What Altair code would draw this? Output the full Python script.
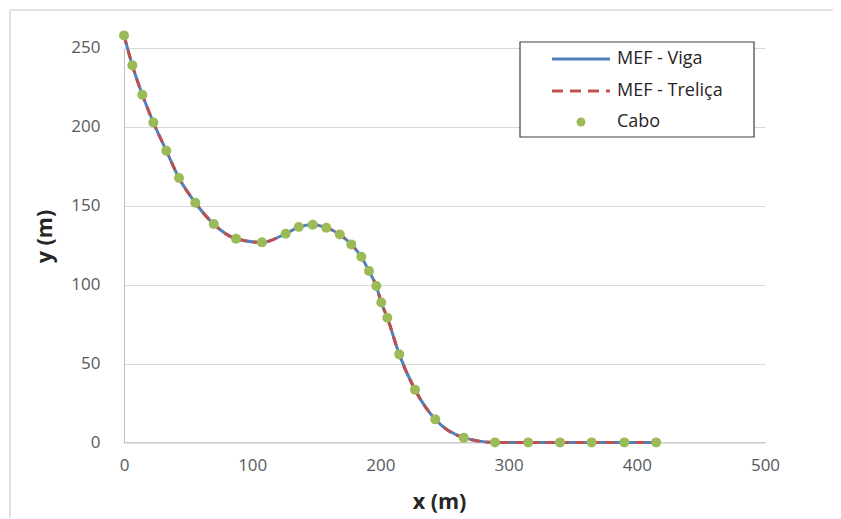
import altair as alt
import pandas as pd

# Cable shape
x_vals = [0, 6.5, 14.3, 22.9, 33.0, 42.9, 55.6, 70.0, 87.4, 107.6, 126.1, 136.3,
          147.2, 157.8, 168.3, 177.3, 185.1, 191.1, 196.8, 200.7, 205.4, 214.7,
          227.0, 242.8, 265.0, 289.4, 315.3, 340.1, 364.8, 390.3, 415.1]
y_vals = [258.0, 239.0, 220.4, 202.8, 184.9, 167.6, 151.9, 138.4, 129.1, 126.8,
          132.3, 136.5, 138.0, 136.1, 131.8, 125.5, 117.7, 108.6, 99.1, 88.7,
          79.0, 55.8, 33.4, 14.6, 3.0, 0, 0, 0, 0, 0, 0]
series_names = ["MEF - Viga", "MEF - Treliça", "Cabo"]
series_colors = ["#4F81BD", "#C0504D", "#9BBB59"]
x_ticks = [0, 100, 200, 300, 400, 500]
y_ticks = [0, 50, 100, 150, 200, 250]

df = pd.DataFrame({"x": x_vals, "y": y_vals})
FONT = "Open Sans"

xenc = alt.X("x:Q", scale=alt.Scale(domain=[0, 500], nice=False),
             axis=alt.Axis(values=x_ticks, title="x (m)", grid=False,
                           labelFlush=False,
                           titleX=315, titleY=60, titleBaseline="middle",
                           titleAlign="center", labelPadding=15))
yenc = alt.Y("y:Q", scale=alt.Scale(domain=[0, 250], nice=False),
             axis=alt.Axis(values=y_ticks, title="y (m)", grid=True,
                           labelFlush=False,
                           titleX=-79, titleY=188, titleAngle=270,
                           titleBaseline="middle", titleAlign="center",
                           labelPadding=24))

base = alt.Chart(df)
viga = base.mark_line(color=series_colors[0], strokeWidth=3,
                      interpolate="monotone").encode(x=xenc, y=yenc)
trel = base.mark_line(color=series_colors[1], strokeWidth=3, strokeDash=[9, 6],
                      interpolate="monotone").encode(x="x:Q", y="y:Q")
cabo = base.mark_circle(color=series_colors[2], size=100, opacity=1).encode(x="x:Q", y="y:Q")

# Legend (manual, Excel style)
leg_box = alt.Chart(pd.DataFrame({"a": [0]})).mark_rect(
    fill="white", stroke="#404040", strokeWidth=1.2).encode(
    x=alt.value(396), x2=alt.value(630), y=alt.value(-6), y2=alt.value(89))
leg_rows = [11, 43, 74]
leg_layers = [leg_box]
for i, name in enumerate(series_names):
    ld = alt.Chart(pd.DataFrame({"label": [name]}))
    if i < 2:
        kw = dict(color=series_colors[i], strokeWidth=3)
        if i == 1:
            kw["strokeDash"] = [11, 7]
        leg_layers.append(ld.mark_rule(**kw).encode(
            x=alt.value(428), x2=alt.value(486), y=alt.value(leg_rows[i])))
    else:
        leg_layers.append(ld.mark_circle(color=series_colors[2], size=80, opacity=1).encode(
            x=alt.value(457), y=alt.value(leg_rows[i])))
    leg_layers.append(ld.mark_text(align="left", baseline="middle", font=FONT,
                                   fontSize=18, color="#262626").encode(
        x=alt.value(493), y=alt.value(leg_rows[i]), text="label:N"))

# chart-area border (top and left edges)
border_top = alt.Chart(pd.DataFrame({"a": [0]})).mark_rule(color="#D9D9D9", strokeWidth=1.5).encode(
    x=alt.value(-114), x2=alt.value(760), y=alt.value(-38))
border_left = alt.Chart(pd.DataFrame({"a": [0]})).mark_rule(color="#D9D9D9", strokeWidth=1.5).encode(
    x=alt.value(-114), y=alt.value(-38), y2=alt.value(480))

chart = alt.layer(border_top, border_left, viga, trel, cabo, *leg_layers).properties(
    width=641, height=394.4,
    autosize=alt.AutoSizeParams(type="none"),
    padding={"left": 116, "top": 40, "right": 68, "bottom": 76},
    background="white",
).configure_view(stroke=None).configure_axis(
    labelFont=FONT, labelFontSize=17, labelColor="#595959",
    titleFont=FONT, titleFontSize=21.5, titleFontWeight="bold", titleColor="#262626",
    ticks=False, tickSize=0, domainColor="#BFBFBF", domainWidth=1,
    gridColor="#D9D9D9", gridWidth=1,
)

chart.save("out.html", embed_options={"renderer": "svg", "actions": False})
